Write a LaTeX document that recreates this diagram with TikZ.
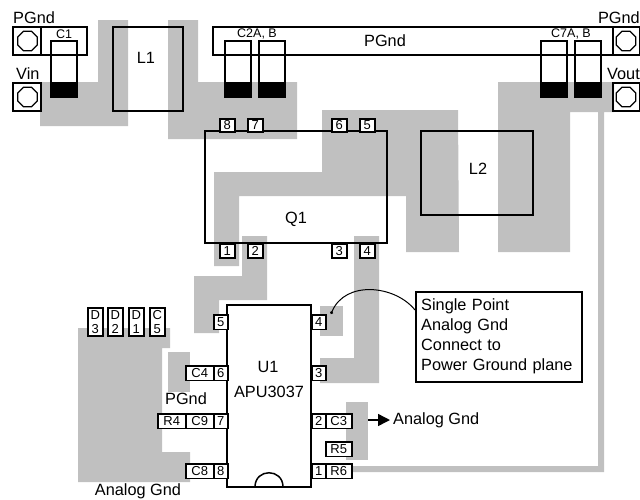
\documentclass[tikz,border=0pt]{standalone}
\usepackage{fontspec}
\setmainfont{Liberation Sans}
\usetikzlibrary{shapes.geometric,arrows.meta}
\definecolor{plane}{RGB}{192,192,192}
\tikzset{
	copper/.style={fill=plane,draw=none},
	part/.style={draw,line width=1.5pt},
	pinbox/.style={draw,fill=white,line width=1.5pt,inner sep=0pt,anchor=north west,font=\fontsize{13}{13}\selectfont},
	padhole/.style={draw,line width=1.3pt,regular polygon,regular polygon sides=8,inner sep=0pt,minimum size=21pt},
	lbl/.style={inner sep=0pt,font=\fontsize{16.3}{16.3}\selectfont},
	small/.style={inner sep=0pt,font=\fontsize{12.5}{12.5}\selectfont}
}
\begin{document}
\begin{tikzpicture}[x=1pt,y=-1pt]
	\useasboundingbox (0,0) rectangle (640,499);
	\fill[copper] (98,20) -- (128,20) -- (128,126) -- (40,126) -- (40,82) -- (98,82) -- cycle;
	\fill[copper] (168,20) -- (198,20) -- (198,82) -- (297,82) -- (297,139) -- (168,139) -- cycle;
	\fill[copper] (322,110) -- (458,110) -- (459,252) -- (406,252) -- (406,196) -- (239,196) -- (239,266) -- (214,266) -- (214,172) -- (322,172) -- cycle;
	\fill[copper] (242,236) -- (267,236) -- (267,300) -- (219,300) -- (219,333) -- (194,333) -- (194,276) -- (242,276) -- cycle;
	\fill[copper] (354,236) -- (379,236) -- (379,383) -- (320,383) -- (320,358) -- (354,358) -- cycle;
	\fill[copper] (320,306) rectangle (343,336);
	\fill[copper] (346,402) rectangle (368,460);
	\fill[copper] (350,466) -- (598,466) -- (598,112) -- (570,112) -- (570,252) -- (498,252) -- (498,82) -- (614,82) -- (614,112) -- (604,112) -- (604,472) -- (350,472) -- cycle;
	\fill[copper] (78,328) -- (170,328) -- (170,348) -- (162,348) -- (162,452) -- (190,452) -- (190,482) -- (78,482) -- cycle;
	\fill[copper] (168,352) rectangle (190,392);

	\draw[part] (13,27) rectangle (87,55);
	\draw[part] (41,27) -- (41,55);
	\draw[part] (13,83) rectangle (41,111);
	\draw[part] (213,27) rectangle (640,55);
	\draw[part] (613,27) -- (613,55);
	\draw[part] (613,83) -- (640,83) -- (640,111) -- (613,111) -- cycle;
	\node[padhole] (padA) at (27.5,41) {};
	\node[padhole] (padB) at (27.5,97) {};
	\node[padhole] (padC) at (626,41) {};
	\node[padhole] (padD) at (626,97) {};

	\foreach \x in {51,225,259,541,575}{
		\fill[black] (\x,82) rectangle (\x+26,97);
		\draw[part] (\x,41) rectangle (\x+26,97);
	}

	\draw[part] (113,27) rectangle (183,111);
	\draw[part] (421,131) rectangle (533,215);
	\draw[part] (205,131) rectangle (387,243);
	\draw[part] (227,305) rectangle (311,487);
	\draw[part] (255,487) .. controls (255,468) and (283,468) .. (283,487);

	\foreach \x/\t in {219/8,247/7,331/6,359/5}{
		\node[pinbox,minimum width=15pt,minimum height=13pt] (pin\t) at (\x,118) {\t};
	}
	\foreach \x/\t in {219/1,247/2,331/3,359/4}{
		\node[pinbox,minimum width=15pt,minimum height=14pt] (pinb\t) at (\x,243) {\t};
	}
	\foreach \y/\t in {314/5,365/6,413/7,463/8}{
		\node[pinbox,minimum width=14pt,minimum height=14.5pt] (left\t) at (213,\y) {\t};
	}
	\foreach \y/\t in {314/4,365/3,413/2,463/1}{
		\node[pinbox,minimum width=14pt,minimum height=14.5pt] (right\t) at (311,\y) {\t};
	}
	\foreach \x/\y/\w/\t in {185/365/28/C4,185/413/28/C9,157/413/28/R4,185/463/28/C8,325/413/26/C3,325/441/26/R5,325/463/26/R6}{
		\node[pinbox,minimum width=\w pt,minimum height=14.5pt] (part\t) at (\x,\y) {\t};
	}
	\foreach \x/\a/\b in {87/D/3,107/D/2,128/D/1,149/C/5}{
		\node[pinbox,minimum width=15pt,minimum height=28pt,align=center] (diode\a\b) at (\x,307) {\a\\[1pt]\b};
	}

	\node[small] (c1) at (64,34) {C1};
	\node[small] (c2) at (257,34) {C2A, B};
	\node[small] (c7) at (571,34) {C7A, B};
	\node[lbl] (l1) at (146,58) {L1};
	\node[lbl] (l2) at (478,169) {L2};
	\node[lbl] (q1) at (296,219) {Q1};
	\node[lbl] (u1) at (268,367) {U1};
	\node[lbl] (apu) at (269,392) {APU3037};
	\node[lbl,anchor=west] (pgndA) at (13,18) {PGnd};
	\node[lbl,anchor=east] (pgndB) at (640,18) {PGnd};
	\node[lbl] (pgndC) at (385,41) {PGnd};
	\node[lbl] (pgndD) at (186,399) {PGnd};
	\node[lbl,anchor=west] (vin) at (16,74) {Vin};
	\node[lbl,anchor=east] (vout) at (640,74) {Vout};
	\node[lbl] (agndA) at (138,491) {Analog Gnd};
	\node[lbl,anchor=west] (agndB) at (393,420) {Analog Gnd};

	\node[draw,line width=1.5pt,anchor=north west,minimum width=166pt,minimum height=90pt,inner sep=0pt] (note) at (415,291) {};
	\node[lbl,anchor=north west,align=left,text width=160pt,font=\fontsize{16.3}{20}\selectfont] (notetext) at (421,298) {Single Point\\Analog Gnd\\Connect to\\Power Ground plane};

	\coordinate (star) at (331,314);
	\coordinate (noteend) at (415,310);
	\coordinate (gnd) at (368,420);
	\draw[line width=1pt,-{Circle[length=3pt]}] (noteend) .. controls (395,285) and (345,280) .. (star);
	\draw[line width=1.5pt,-{Triangle[length=12pt,width=12pt]},shorten >=3pt] (gnd) -- (agndB);
\end{tikzpicture}
\end{document}
